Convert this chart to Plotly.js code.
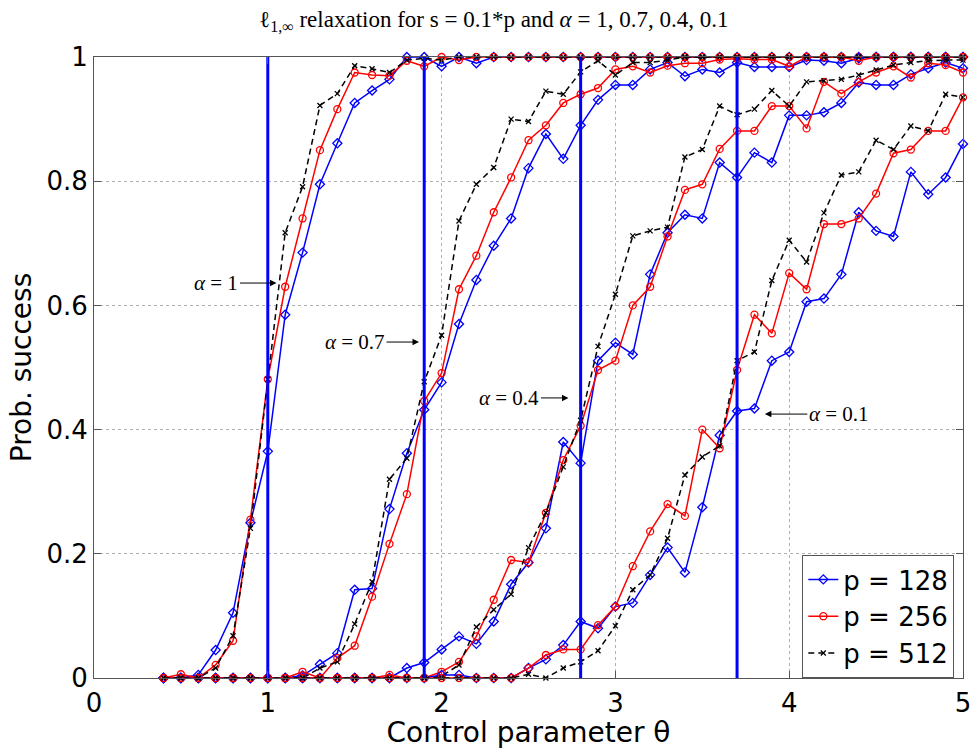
<!DOCTYPE html>
<html>
<head>
<meta charset="utf-8">
<script src="https://cdn.plot.ly/plotly-3.0.1.min.js"></script>
<style>html,body{margin:0;padding:0;background:#fff;}#chart{width:972px;height:749px;}</style>
</head>
<body>
<div id="chart"></div>
<script>
// Control parameter theta (x positions of all samples)
const theta = [0.4,0.5,0.6,0.7,0.8,0.9,1.0,1.1,1.2,1.3,1.4,1.5,1.6,1.7,1.8,1.9,2.0,2.1,2.2,2.3,2.4,2.5,2.6,2.7,2.8,2.9,3.0,3.1,3.2,3.3,3.4,3.5,3.6,3.7,3.8,3.9,4.0,4.1,4.2,4.3,4.4,4.5,4.6,4.7,4.8,4.9,5.0];

// alpha = 1
const a1_p128 = [0,0,0.005,0.045,0.105,0.25,0.365,0.585,0.685,0.795,0.861,0.926,0.946,0.964,1,1,0.985,1,0.99,1,1,1,1,1,1,1,1,1,1,1,1,1,1,1,1,1,1,1,1,1,1,1,1,1,1,1,1];
const a1_p256 = [0,0.006,0,0.021,0.06,0.255,0.481,0.63,0.74,0.85,0.916,0.975,0.971,0.97,0.994,0.985,1,0.995,1,1,1,1,1,1,1,1,1,1,1,1,1,1,1,1,1,1,1,1,1,1,1,1,1,1,1,1,1];
const a1_p512 = [0,0,0,0.016,0.068,0.241,0.481,0.717,0.791,0.922,0.941,0.986,0.981,0.975,0.995,0.998,0.995,1,1,1,1,1,1,1,1,1,1,1,1,1,1,1,1,1,1,1,1,1,1,1,1,1,1,1,1,1,1];
// alpha = 0.7
const a07_p128 = [0,0,0,0,0,0,0,0,0.004,0.022,0.04,0.142,0.144,0.272,0.362,0.432,0.476,0.57,0.641,0.696,0.74,0.821,0.876,0.836,0.89,0.931,0.955,0.955,0.98,0.991,0.969,0.98,0.975,0.991,0.984,0.984,0.984,0.995,0.994,0.99,0.998,1,1,1,1,1,1];
const a07_p256 = [0,0,0,0,0,0,0,0,0.01,0,0.032,0.052,0.131,0.216,0.296,0.446,0.491,0.626,0.68,0.75,0.806,0.866,0.89,0.926,0.94,0.95,0.98,0.985,0.975,0.986,0.99,0.99,0.996,0.997,0.996,0.996,0.985,1,1,1,0.994,1,1,1,1,1,1];
const a07_p512 = [0,0,0,0,0,0,0,0,0,0.016,0.026,0.087,0.155,0.32,0.354,0.477,0.552,0.736,0.795,0.822,0.9,0.896,0.945,0.94,0.976,0.994,0.971,0.991,0.991,0.995,1,1,1,1,1,1,1,1,1,1,1,1,1,1,1,1,1];
// alpha = 0.4
const a04_p128 = [0,0,0,0,0,0,0,0,0,0,0,0,0,0,0.016,0.025,0.046,0.067,0.055,0.091,0.151,0.186,0.241,0.38,0.346,0.511,0.54,0.521,0.65,0.717,0.746,0.74,0.83,0.806,0.846,0.83,0.906,0.906,0.911,0.926,0.959,0.955,0.955,0.972,0.982,0.991,0.982];
const a04_p256 = [0,0,0,0,0,0,0,0,0,0,0,0,0,0.005,0,0,0.01,0.026,0.067,0.126,0.19,0.186,0.266,0.351,0.406,0.496,0.511,0.6,0.63,0.711,0.786,0.795,0.852,0.881,0.881,0.921,0.921,0.885,0.96,0.941,0.96,0.975,0.985,0.967,0.99,0.987,0.975];
const a04_p512 = [0,0,0,0,0,0,0,0,0,0,0,0,0,0,0,0,0.003,0.021,0.082,0.11,0.135,0.21,0.266,0.34,0.415,0.534,0.618,0.712,0.72,0.726,0.839,0.851,0.921,0.907,0.916,0.946,0.921,0.96,0.962,0.964,0.971,0.979,0.987,0.991,0.994,0.995,0.995];
// alpha = 0.1
const a01_p128 = [0,0,0,0,0,0,0,0,0,0,0,0,0,0,0,0,0.005,0.005,0,0,0,0.016,0.03,0.053,0.091,0.08,0.115,0.121,0.166,0.21,0.17,0.275,0.391,0.43,0.434,0.511,0.525,0.606,0.611,0.65,0.75,0.72,0.711,0.815,0.779,0.806,0.86];
const a01_p256 = [0,0,0,0,0,0,0,0,0,0,0,0,0,0,0,0,0,0,0,0,0,0.016,0.037,0.046,0.046,0.085,0.115,0.18,0.236,0.28,0.261,0.4,0.37,0.496,0.585,0.555,0.652,0.626,0.731,0.731,0.74,0.78,0.845,0.851,0.881,0.881,0.935];
const a01_p512 = [0,0,0,0,0,0,0,0,0,0,0,0,0,0,0,0,0,0,0,0,0,0.006,0,0.016,0.026,0.044,0.084,0.142,0.166,0.225,0.327,0.356,0.374,0.511,0.525,0.64,0.705,0.67,0.749,0.81,0.815,0.866,0.851,0.889,0.881,0.94,0.935];

// Vertical reference lines (one per alpha)
const refLineX = [1.0, 1.9, 2.8, 3.7];

// Annotation labels
const alphaLabels = ['<i>α</i> = 1', '<i>α</i> = 0.7', '<i>α</i> = 0.4', '<i>α</i> = 0.1'];
const labelTipX = [1.05, 1.87, 2.73, 3.86];
const labelTipY = [0.636, 0.541, 0.451, 0.425];
const labelOffsetX = [-60, -64, -59, 74];

const legendNames = ['p = 128', 'p = 256', 'p = 512'];

const styles = [
  {color:'#0000ff', dash:'solid', symbol:'diamond-open', size:7, mlw:1.3},
  {color:'#ff0000', dash:'solid', symbol:'circle-open', size:7, mlw:1.3},
  {color:'#000000', dash:'6px,4px', symbol:'x-thin-open', size:5, mlw:1.3}
];

const groups = [
  [a1_p128, a1_p256, a1_p512],
  [a07_p128, a07_p256, a07_p512],
  [a04_p128, a04_p256, a04_p512],
  [a01_p128, a01_p256, a01_p512]
];

const traces = [];
groups.forEach((g, gi) => {
  g.forEach((vals, si) => {
    const s = styles[si];
    traces.push({
      type:'scatter', mode:'lines+markers', x: theta, y: vals,
      name: legendNames[si], legendgroup: 'p'+si, showlegend: gi === 0,
      line:{color:s.color, width:1.5, dash:s.dash},
      marker:{symbol:s.symbol, size:s.size, color:s.color, line:{color:s.color, width:s.mlw}},
      cliponaxis:false, hoverinfo:'skip'
    });
  });
});
refLineX.forEach(v => {
  traces.push({type:'scatter', mode:'lines', x:[v, v], y:[0, 1], showlegend:false,
    line:{color:'#0000ff', width:3}, hoverinfo:'skip'});
});

const annotations = alphaLabels.map((t, i) => ({
  x: labelTipX[i], y: labelTipY[i], xref:'x', yref:'y', text: t,
  showarrow:true, ax: labelOffsetX[i], ay:0, arrowhead:2, arrowsize:1.3, arrowwidth:1, arrowcolor:'#000',
  font:{family:'Liberation Serif, serif', size:21, color:'#000'}
}));

const sans = 'DejaVu Sans, Verdana, sans-serif';
const layout = {
  width:972, height:749,
  margin:{l:94, r:9, t:57, b:71},
  paper_bgcolor:'#fff', plot_bgcolor:'#fff',
  title:{text:'ℓ<sub>1,∞</sub> relaxation for s = 0.1*p and <i>α</i> = 1, 0.7, 0.4, 0.1',
    font:{family:'Liberation Serif, serif', size:23, color:'#000'}, x:0.508, xref:'container', xanchor:'center', y:0.985, yanchor:'top'},
  xaxis:{range:[0,5], tickvals:[0,1,2,3,4,5], ticktext:['0','1','2','3','4','5'],
    showgrid:true, gridcolor:'#b0b0b0', griddash:'dot', gridwidth:1,
    showline:true, linecolor:'#555', linewidth:1, mirror:'ticks', ticks:'inside', ticklen:7, tickcolor:'#555',
    zeroline:false, tickfont:{family:sans, size:26, color:'#000'}, ticklabelstandoff:2,
    title:{text:'Control parameter θ', font:{family:sans, size:28, color:'#000'}, standoff:2}},
  yaxis:{range:[0,1], tickvals:[0,0.2,0.4,0.6,0.8,1], ticktext:['0','0.2','0.4','0.6','0.8','1'],
    showgrid:true, gridcolor:'#b0b0b0', griddash:'dot', gridwidth:1,
    showline:true, linecolor:'#555', linewidth:1, mirror:'ticks', ticks:'inside', ticklen:7, tickcolor:'#555',
    zeroline:false, tickfont:{family:sans, size:26, color:'#000'},
    title:{text:'Prob. success', font:{family:sans, size:28, color:'#000'}, standoff:6}},
  legend:{x:0.99, y:0.0, xanchor:'right', yanchor:'bottom', bgcolor:'#fff', bordercolor:'#555', borderwidth:1,
    font:{family:sans, size:26, color:'#000'}, tracegroupgap:0, itemwidth:30},
  annotations: annotations,
  showlegend:true
};

Plotly.newPlot('chart', traces, layout, {staticPlot:true, displayModeBar:false});
</script>
</body>
</html>
